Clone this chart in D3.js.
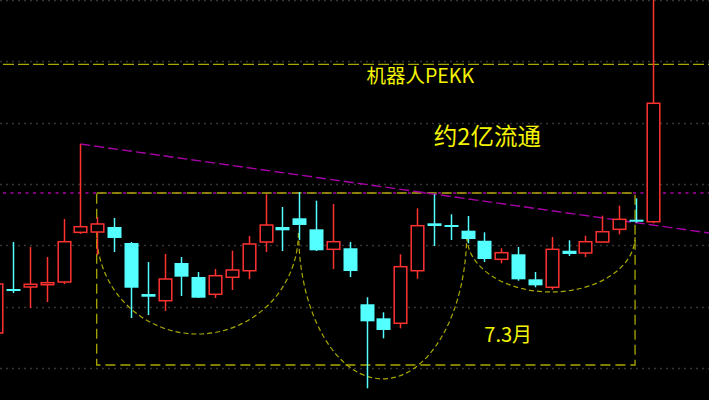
<!DOCTYPE html>
<html>
<head>
<meta charset="utf-8">
<script src="https://cdn.jsdelivr.net/npm/d3@7"></script>
<style>
  html, body { margin: 0; padding: 0; background: #000; }
  svg { display: block; }
</style>
</head>
<body>
<div id="chart"></div>
<script>
// ---- data (price units arbitrary, grid every 1.0) ----
const days = ["d00","d01","d02","d03","d04","d05","d06","d07","d08","d09",
              "d10","d11","d12","d13","d14","d15","d16","d17","d18","d19",
              "d20","d21","d22","d23","d24","d25","d26","d27","d28","d29",
              "d30","d31","d32","d33","d34","d35","d36","d37","d38","d39"];
const openP  = [5.571,6.288,6.321,6.358,6.402,7.212,7.217,7.299,7.038,6.206,
                6.097,6.712,6.484,6.202,6.479,6.586,7.054,7.299,7.441,7.261,
                6.935,6.952,6.039,5.810,5.729,6.586,7.359,7.323,7.239,7.075,
                6.772,6.854,6.446,6.316,6.912,6.875,7.054,7.261,7.410,7.385];
const highP  = [6.467,7.054,6.973,6.810,7.429,8.652,7.462,7.446,7.054,6.728,
                6.859,6.810,6.565,6.614,6.912,7.152,7.832,7.625,7.870,7.728,
                7.674,7.054,6.153,5.908,6.854,7.604,7.832,7.506,7.478,7.212,
                6.952,6.973,6.565,7.136,7.082,7.157,7.483,7.646,7.767,11.100];
const lowP   = [5.457,6.223,5.978,6.076,6.370,7.185,6.842,6.891,5.815,5.864,
                5.929,6.174,6.141,6.141,6.272,6.451,6.891,6.908,7.087,6.908,
                6.614,6.484,4.669,5.484,5.647,6.456,6.989,7.087,7.033,6.728,
                6.707,6.423,6.316,6.277,6.826,6.810,7.054,7.180,7.369,7.359];
const closeP = [6.370,6.255,6.365,6.391,7.059,7.304,7.348,7.120,6.309,6.162,
                6.451,6.489,6.146,6.505,6.598,7.022,7.331,7.245,7.332,6.919,
                7.059,6.581,5.761,5.620,6.652,7.320,7.315,7.307,7.103,6.777,
                6.880,6.446,6.348,6.935,6.859,7.059,7.222,7.424,7.393,9.316];
const gridTicks = [5, 6, 7, 8, 9, 10, 11];

// annotation levels
const levelLine = 9.952;          // yellow dashed horizontal
const neckLine = 7.853;           // magenta dotted horizontal
const boxRange = {i0: 6, i1: 38, top: 7.853, bottom: 5.049};
const trendLine = {i0: 5, p0: 8.652, i1: 39, p1: 7.331};
const arcs = [
  {i0: 6,  i1: 18, top: 7.201, bottom: 5.554},
  {i0: 18, i1: 28, top: 7.201, bottom: 4.821},
  {i0: 28, i1: 38, top: 7.136, bottom: 6.239}
];
const labels = [
  {text: "机器人PEKK", i: 22.0, p: 9.640, size: 19.5},
  {text: "约2亿流通",   i: 26.0, p: 8.629, size: 23.5},
  {text: "7.3月",      i: 29.0, p: 5.428, size: 20}
];

// ---- drawing ----
const W = 709, H = 400;
const RED = "#ff3232", CYAN = "#54ffff", OLIVE = "#a8a800", MAG = "#a800a8", TXT = "#f4f400";
const svg = d3.select("#chart").append("svg").attr("width", W).attr("height", H)
  .style("background", "#000");
svg.append("rect").attr("width", W).attr("height", H).attr("fill", "#000");

const x = d3.scaleLinear().domain([0, 39]).range([-3.8, 652.7]);
const y = d3.scaleLinear().domain([5, 11]).range([368, 0]);
const halfW = 6.3;

// grid
svg.append("g").selectAll("line").data(gridTicks).join("line")
  .attr("x1", 0).attr("x2", W)
  .attr("y1", d => Math.max(0.5, Math.round(y(d)) + 0.5))
  .attr("y2", d => Math.max(0.5, Math.round(y(d)) + 0.5))
  .attr("stroke", "#363636").attr("stroke-width", 1.5).attr("stroke-dasharray", "2,4");

// yellow level line
svg.append("line").attr("x1", 0).attr("x2", W)
  .attr("y1", y(levelLine)).attr("y2", y(levelLine))
  .attr("stroke", OLIVE).attr("stroke-width", 1.3).attr("stroke-dasharray", "11,4")
  .attr("stroke-dashoffset", -3);

// magenta horizontal neck line
svg.append("line").attr("x1", 3).attr("x2", W)
  .attr("y1", y(neckLine)).attr("y2", y(neckLine))
  .attr("stroke", MAG).attr("stroke-width", 1.5).attr("stroke-dasharray", "3,4.5");

// box
const bx0 = x(boxRange.i0) - 0.5, bx1 = x(boxRange.i1) - 0.8;
svg.append("path")
  .attr("d", `M${bx0},${y(boxRange.top)}H${bx1}V${y(boxRange.bottom)}H${bx0}Z`)
  .attr("fill", "none").attr("stroke", OLIVE).attr("stroke-width", 1.3)
  .attr("stroke-dasharray", "10,5");

// arcs (lower half-ellipses)
arcs.forEach(a => {
  const xa = x(a.i0) - 0.5, xb = x(a.i1) - 0.8;
  const cy = y(a.top), rx = (xb - xa) / 2, ry = y(a.bottom) - cy;
  svg.append("path")
    .attr("d", `M${xa},${cy}A${rx},${ry} 0 0 0 ${xb},${cy}`)
    .attr("fill", "none").attr("stroke", OLIVE).attr("stroke-width", 1.2)
    .attr("stroke-dasharray", "5,3");
});

// trend line (extended to right edge)
const slope = (y(trendLine.p1) - y(trendLine.p0)) / (x(trendLine.i1) - x(trendLine.i0));
const tx0 = x(trendLine.i0), ty0 = y(trendLine.p0);
svg.append("line").attr("x1", tx0).attr("y1", ty0)
  .attr("x2", W).attr("y2", ty0 + slope * (W - tx0))
  .attr("stroke", MAG).attr("stroke-width", 1.4).attr("stroke-dasharray", "10,4");

// candles
const cdata = days.map((d, i) => ({i, o: openP[i], h: highP[i], l: lowP[i], c: closeP[i]}));
const g = svg.append("g");
cdata.forEach(d => {
  const cx = Math.round(x(d.i)) + 0.5;
  const up = d.c >= d.o;
  if (up) {
    const yt = y(d.c), yb = y(d.o);
    g.append("line").attr("x1", cx).attr("x2", cx).attr("y1", y(d.h)).attr("y2", yt)
      .attr("stroke", RED).attr("stroke-width", 1.5);
    g.append("line").attr("x1", cx).attr("x2", cx).attr("y1", yb).attr("y2", y(d.l))
      .attr("stroke", RED).attr("stroke-width", 1.5);
    g.append("rect").attr("x", cx - halfW).attr("y", yt)
      .attr("width", halfW * 2).attr("height", Math.max(1.5, yb - yt))
      .attr("fill", "#000").attr("stroke", RED).attr("stroke-width", 1.5);
  } else {
    const yt = y(d.o), yb = y(d.c);
    g.append("line").attr("x1", cx).attr("x2", cx).attr("y1", y(d.h)).attr("y2", y(d.l))
      .attr("stroke", CYAN).attr("stroke-width", 1.5);
    const hgt = Math.max(2, yb - yt);
    g.append("rect").attr("x", cx - halfW - 0.7).attr("y", (yt + yb) / 2 - hgt / 2)
      .attr("width", halfW * 2 + 1.4).attr("height", hgt)
      .attr("fill", CYAN);
  }
});

// labels
svg.append("g").selectAll("text").data(labels).join("text")
  .attr("x", d => x(d.i)).attr("y", d => y(d.p))
  .attr("fill", TXT)
  .attr("font-family", "'Noto Sans CJK SC', 'Noto Sans', sans-serif")
  .attr("font-size", d => d.size)
  .text(d => d.text);
</script>
</body>
</html>
